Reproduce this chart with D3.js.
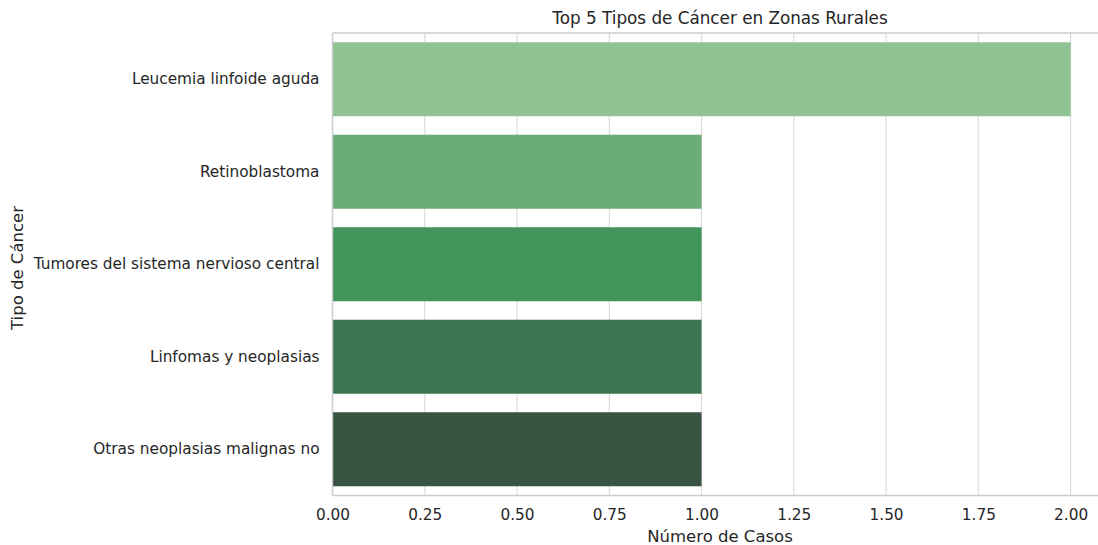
<!DOCTYPE html>
<html>
<head>
<meta charset="utf-8">
<script src="https://cdn.jsdelivr.net/npm/d3@7"></script>
<style>
  body { margin: 0; background: #fff; }
  text { font-family: "DejaVu Sans", sans-serif; fill: #262626; }
</style>
</head>
<body>
<div id="chart"></div>
<script>
const categories = ['Leucemia linfoide aguda', 'Retinoblastoma', 'Tumores del sistema nervioso central', 'Linfomas y neoplasias', 'Otras neoplasias malignas no']
const cases = [2, 1, 1, 1, 1]
const barColors = ['#90c293', '#6aab78', '#43945a', '#3c7650', '#3a5443']
const xTicks = [0, 0.25, 0.5, 0.75, 1, 1.25, 1.5, 1.75, 2]

const margin = { top: 33, left: 332.5, right: -9.5, bottom: 49.5 }
const W = 1098, H = 545
const width = W - margin.left - margin.right
const height = H - margin.top - margin.bottom

var svg = d3.select('#chart')
    .append('svg')
    .attr('width', W)
    .attr('height', H)

var g = svg.append('g')
    .attr('transform', 'translate(' + margin.left + ',' + margin.top + ')')

var x = d3.scaleLinear().domain([0, 2.1]).range([0, width])
var y = d3.scaleBand().domain(categories).range([0, height]).paddingInner(0.2).paddingOuter(0.1)

// grid
g.selectAll('.grid')
    .data(xTicks)
    .enter().append('line')
    .attr('x1', d => x(d)).attr('x2', d => x(d))
    .attr('y1', 0).attr('y2', height)
    .attr('stroke', '#dcdcdc')
    .attr('stroke-width', 1.2)

g.selectAll('.bar')
    .data(categories)
    .enter().append('rect')
    .attr('x', x(0))
    .attr('y', d => y(d))
    .attr('width', (d, i) => x(cases[i]) - x(0))
    .attr('height', y.bandwidth())
    .attr('fill', (d, i) => barColors[i])

// spines
g.append('line').attr('x1', 0).attr('x2', 0).attr('y1', 0).attr('y2', height)
    .attr('stroke', '#cccccc').attr('stroke-width', 1.4)
g.append('line').attr('x1', 0).attr('x2', width).attr('y1', height).attr('y2', height)
    .attr('stroke', '#cccccc').attr('stroke-width', 1.4)
g.append('line').attr('x1', 0).attr('x2', width).attr('y1', 0).attr('y2', 0)
    .attr('stroke', '#cccccc').attr('stroke-width', 1.4)

var xAxis = g.append('g')
    .attr('transform', 'translate(0,' + height + ')')
    .call(d3.axisBottom(x).tickValues(xTicks).tickFormat(d3.format('.2f')).tickSize(0).tickPadding(14))
xAxis.select('.domain').remove()
xAxis.selectAll('text').attr('font-size', 15.3).style('fill', '#262626').attr('font-family', 'DejaVu Sans')

var yAxis = g.append('g')
    .call(d3.axisLeft(y).tickSize(0).tickPadding(13))
yAxis.select('.domain').remove()
yAxis.selectAll('text').attr('font-size', 15.3).style('fill', '#262626').attr('font-family', 'DejaVu Sans')

svg.append('text')
    .attr('x', 720).attr('y', 24)
    .attr('text-anchor', 'middle')
    .attr('font-size', 16.8)
    .text('Top 5 Tipos de Cáncer en Zonas Rurales')

svg.append('text')
    .attr('x', 720).attr('y', 542)
    .attr('text-anchor', 'middle')
    .attr('font-size', 16.5)
    .text('Número de Casos')

svg.append('text')
    .attr('transform', 'translate(23,268) rotate(-90)')
    .attr('text-anchor', 'middle')
    .attr('font-size', 16.5)
    .text('Tipo de Cáncer')
</script>
</body>
</html>
